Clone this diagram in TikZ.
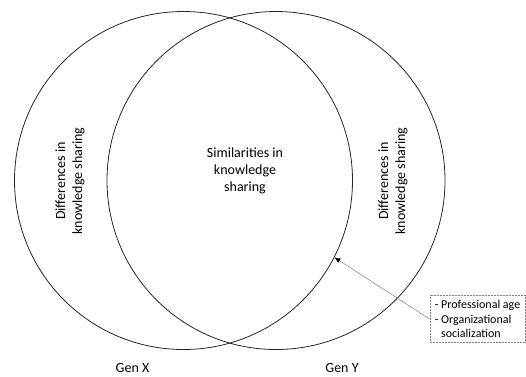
\documentclass[tikz,border=0pt]{standalone}
\usepackage{fontspec}
\setmainfont{Carlito}
\usetikzlibrary{positioning,shapes,arrows.meta}

\begin{document}
\begin{tikzpicture}[x=1pt,y=-1pt,line width=0.8pt,
        set/.style={circle,draw=black!85,minimum size=338pt,inner sep=0pt},
        txt/.style={font=\fontsize{14}{17}\selectfont,align=center}]
                \useasboundingbox (0,0) rectangle (526,376);
                \node[set] (genx) at (183.5,180.5) {};
                \node[set] (geny) at (276,180.5) {};
                \node[txt] (sim) at (245,171) {Similarities in\\knowledge\\sharing};
                \node[txt,rotate=90] (diffx) at (70,181) {Differences in\\knowledge sharing};
                \node[txt,rotate=90] (diffy) at (393,181) {Differences in\\knowledge sharing};
                \node[txt,anchor=base] (labx) at (132.5,372) {Gen X};
                \node[txt,anchor=base] (laby) at (342,372) {Gen Y};
                \node[draw=gray,densely dotted,line width=0.5pt,align=left,inner sep=5pt,
                      font=\fontsize{12}{14.5}\selectfont,anchor=east] (note) at (525.5,319)
                      {- Professional age\\- Organizational\\\phantom{- }socialization};
                \draw[gray,line width=0.5pt,-{Latex[black,length=6pt,width=5pt]}] (note.west) -- (genx.-27.6);
            \end{tikzpicture}
\end{document}
